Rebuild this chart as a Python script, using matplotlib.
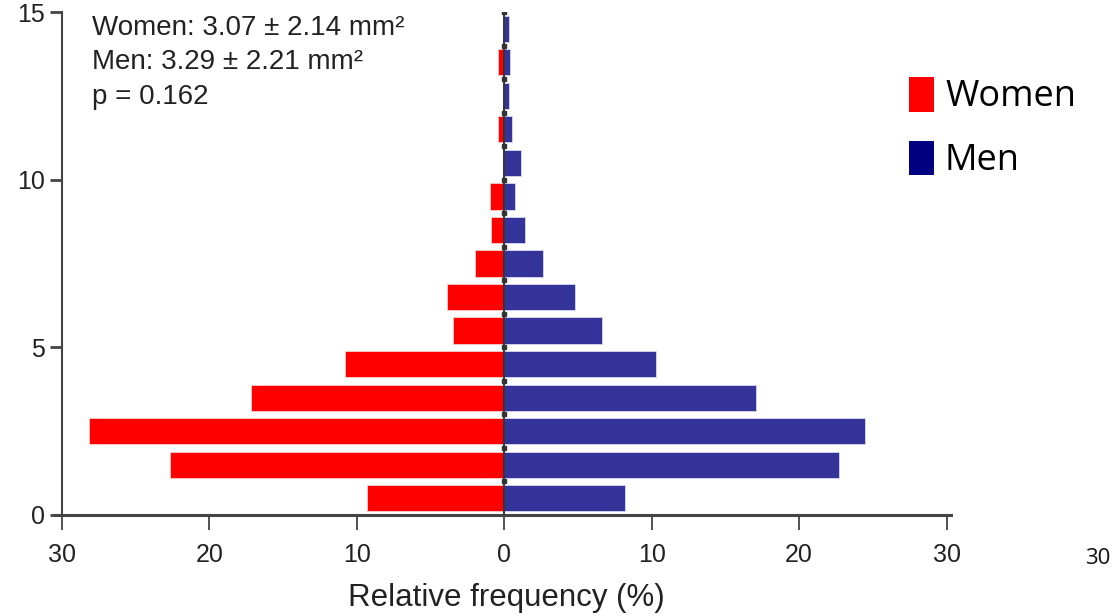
import matplotlib
matplotlib.use("Agg")
import matplotlib.pyplot as plt
from matplotlib.patches import Patch

# Data (bin centres in mm^2, relative frequency in %)
bins = [0.5, 1.5, 2.5, 3.5, 4.5, 5.5, 6.5, 7.5, 8.5, 9.5, 10.5, 11.5, 12.5, 13.5, 14.5]
women = [9.3, 22.7, 28.2, 17.2, 10.8, 3.5, 3.9, 2.0, 0.9, 0.95, 0.0, 0.45, 0.0, 0.45, 0.0]
men = [8.2, 22.7, 24.5, 17.1, 10.3, 6.6, 4.8, 2.6, 1.4, 0.7, 1.15, 0.5, 0.3, 0.4, 0.3]
xticks = [-30, -20, -10, 0, 10, 20, 30]
yticks = [0, 5, 10, 15]
stats_lines = ["Women: 3.07 \u00b1 2.14 mm\u00b2", "Men: 3.29 \u00b1 2.21 mm\u00b2", "p = 0.162"]

plt.rcParams['font.family'] = ['Liberation Sans', 'DejaVu Sans']

fig = plt.figure(figsize=(11.18, 6.16), dpi=100)
ax = fig.add_axes([62 / 1118, (616 - 515) / 616, (951 - 62) / 1118, (515 - 12) / 616])

ax.barh(bins, [-w for w in women], height=0.78, color='#ff0000', edgecolor='#f4d0d0', linewidth=0.6)
ax.barh(bins, men, height=0.78, color='#333399', edgecolor='#d8d8ee', linewidth=0.6)
ax.axvline(0, color='#333333', lw=1.4, zorder=3)
ax.plot([0] * 15, [b + 0.5 for b in bins], 's', color='#333333', ms=2.2, zorder=4)

ax.set_xlim(-30, 30.3)
ax.set_ylim(0, 15)
ax.set_xticks(xticks)
ax.set_xticklabels([str(abs(t)) for t in xticks])
ax.set_yticks(yticks)
ax.set_yticklabels([str(t) for t in yticks])

for s in ['top', 'right']:
    ax.spines[s].set_visible(False)
ax.spines['left'].set_color('#444444')
ax.spines['left'].set_linewidth(1.5)
ax.spines['bottom'].set_color('#444444')
ax.spines['bottom'].set_linewidth(2.2)
ax.spines['bottom'].set_bounds(-30.5, 30.3)

ax.tick_params(axis='x', direction='out', length=11, width=1.3, color='#444444',
               labelsize=18, pad=9, labelcolor='#222222')
ax.tick_params(axis='y', direction='out', length=9, width=2, color='#444444',
               labelsize=18, pad=3, labelcolor='#222222')

ax.set_xlabel("Relative frequency (%)", fontsize=22.5, color='#222222', labelpad=12)

for i, line in enumerate(stats_lines):
    ax.text(0.034, 0.968 - i * 0.068, line, transform=ax.transAxes, fontsize=20,
            color='#222222', va='center', ha='left')

handles = [Patch(facecolor='#ff0000', edgecolor='none'), Patch(facecolor='#000080', edgecolor='none')]
fig.legend(handles, ["Women", "Men"], loc='upper left', bbox_to_anchor=(880 / 1118, 1 - 48 / 616),
           frameon=False, prop={'family': 'Open Sans', 'size': 26},
           handlelength=0.7, handleheight=1.1, handletextpad=0.3, labelspacing=0.7,
           borderpad=0.3)

fig.text(1085 / 1118, 1 - 558 / 616, "30", family='Open Sans', fontsize=16, va='center', ha='left',
         color='#111111')

fig.savefig("out.png", dpi=100)
